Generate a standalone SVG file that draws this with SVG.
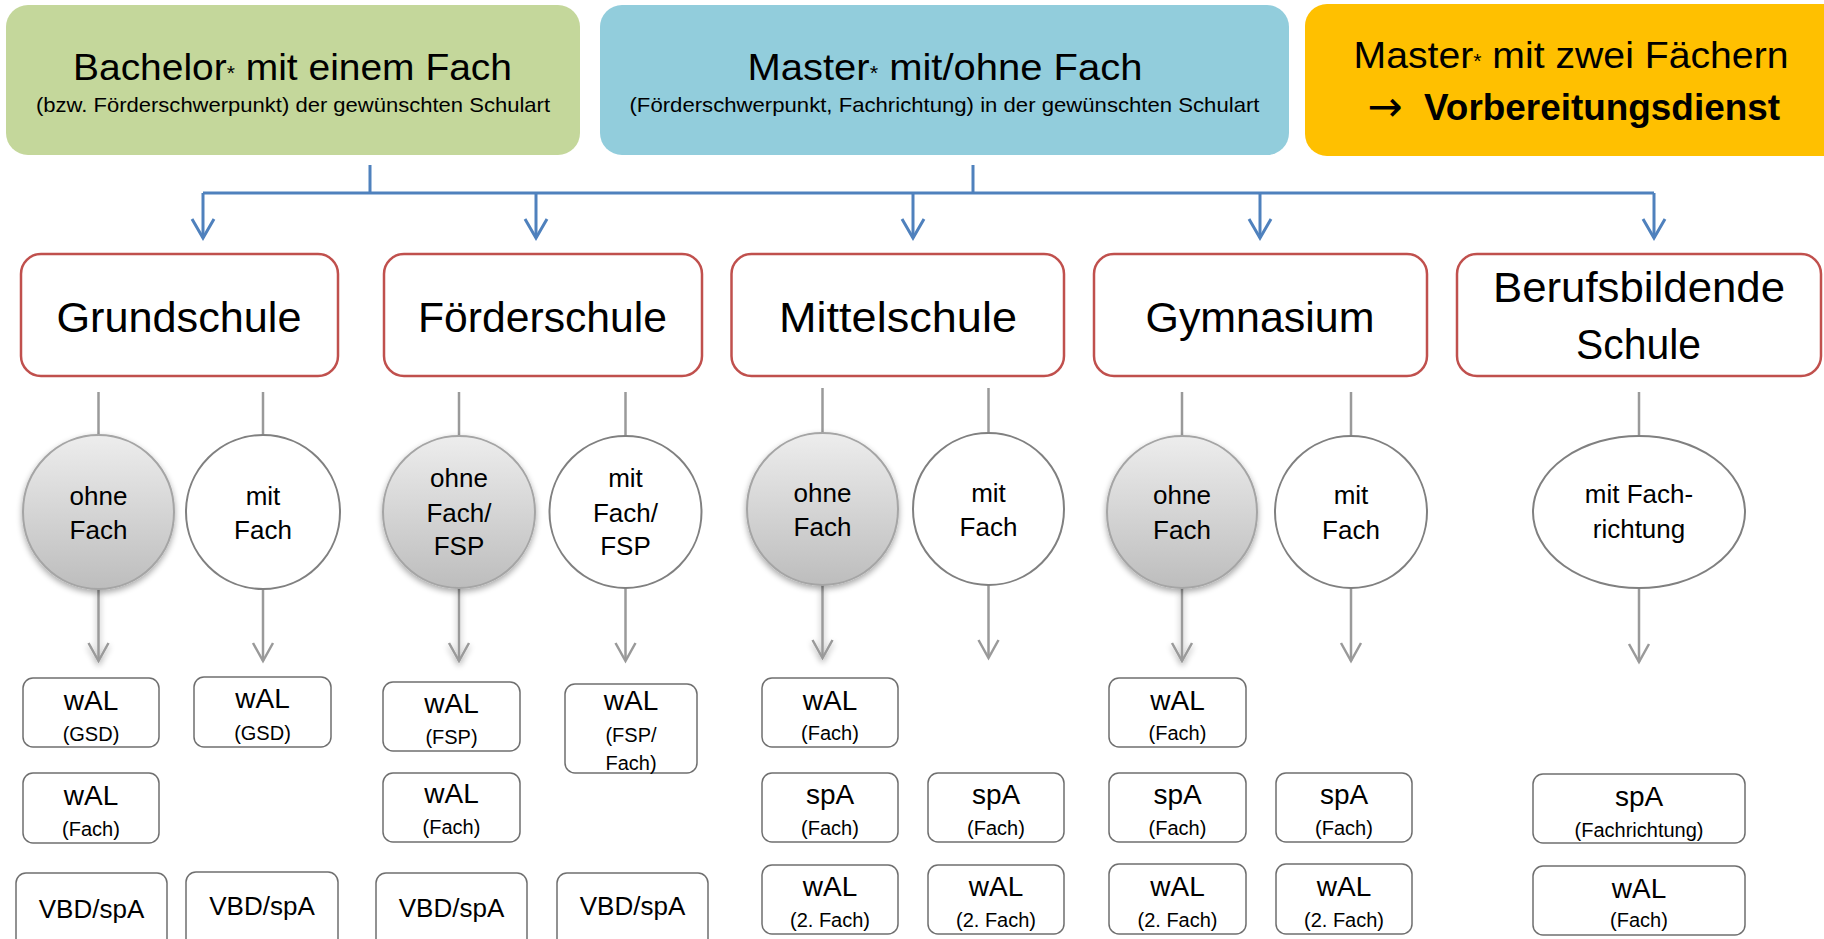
<svg xmlns="http://www.w3.org/2000/svg" width="1824" height="939" viewBox="0 0 1824 939">
<style>
.t{font-family:"Liberation Sans",Arial,sans-serif;fill:#000;text-anchor:middle}
.h1{font-size:37px}
.sub{font-size:21px}
.sch{font-size:43px}
.el{font-size:26px}
.big{font-size:28px}
.sm{font-size:20px}
.vbd{font-size:26px}
.school{fill:#fff;stroke:#C0504D;stroke-width:2.5}
.box{fill:#fff;stroke:#6F6F6F;stroke-width:1.5}
.mit{fill:#fff;stroke:#808080;stroke-width:2}
.ohne{fill:url(#gg);stroke:#A5A5A5;stroke-width:2;filter:url(#sh)}
.blue{fill:none;stroke:#4F81BD;stroke-width:3}
.gray{fill:none;stroke:#9A9A9A;stroke-width:2.5}
</style>
<defs>
<linearGradient id="gg" x1="0" y1="0" x2="0" y2="1">
<stop offset="0" stop-color="#EDEDED"/>
<stop offset="1" stop-color="#BDBDBD"/>
</linearGradient>
<filter id="sh" x="-30%" y="-30%" width="160%" height="160%">
<feGaussianBlur in="SourceAlpha" stdDeviation="3"/>
<feOffset dy="3" result="b"/>
<feComponentTransfer><feFuncA type="linear" slope="0.35"/></feComponentTransfer>
<feMerge><feMergeNode/><feMergeNode in="SourceGraphic"/></feMerge>
</filter>
<marker id="ab" markerUnits="userSpaceOnUse" viewBox="-22 -13 24 26" markerWidth="24" markerHeight="26" refX="0" refY="0" orient="auto" overflow="visible">
<path d="M-19,-11 L0,0 L-19,11" fill="none" stroke="#4F81BD" stroke-width="3" stroke-linejoin="miter"/>
</marker>
<marker id="ag" markerUnits="userSpaceOnUse" viewBox="-22 -13 24 26" markerWidth="24" markerHeight="26" refX="0" refY="0" orient="auto" overflow="visible">
<path d="M-18,-10 L0,0 L-18,10" fill="none" stroke="#9A9A9A" stroke-width="2.5"/>
</marker>
</defs>
<rect width="1824" height="939" fill="#fff"/>

<g id="bachelor">
<rect x="6" y="5" width="574" height="150" rx="22" fill="#C4D79B"/>
<text class="t h1" x="292.5" y="80" textLength="439" lengthAdjust="spacingAndGlyphs">Bachelor<tspan font-size="20">*</tspan> mit einem Fach</text>
<text class="t sub" x="293" y="112" textLength="514" lengthAdjust="spacingAndGlyphs">(bzw. Förderschwerpunkt) der gewünschten Schulart</text>
</g>
<g id="master1">
<rect x="600" y="5" width="689" height="150" rx="22" fill="#92CDDC"/>
<text class="t h1" x="945" y="80" textLength="395" lengthAdjust="spacingAndGlyphs">Master<tspan font-size="20">*</tspan> mit/ohne Fach</text>
<text class="t sub" x="944.5" y="112" textLength="630" lengthAdjust="spacingAndGlyphs">(Förderschwerpunkt, Fachrichtung) in der gewünschten Schulart</text>
</g>
<g id="master2">
<rect x="1305" y="4" width="540" height="152" rx="22" fill="#FFC000"/>
<text class="t h1" x="1571" y="68" textLength="435" lengthAdjust="spacingAndGlyphs">Master<tspan font-size="20">*</tspan> mit zwei Fächern</text>
<text x="1385" y="121" font-family="DejaVu Sans,sans-serif" font-size="42" text-anchor="middle" fill="#000">→</text>
<text class="t h1" x="1602" y="120" font-weight="bold" textLength="356" lengthAdjust="spacingAndGlyphs">Vorbereitungsdienst</text>
</g>

<g id="connectors">
<path class="blue" d="M370 165V193M973 165V193M203 193H1654"/>
<path class="blue" d="M203 193V238" marker-end="url(#ab)"/>
<path class="blue" d="M536 193V238" marker-end="url(#ab)"/>
<path class="blue" d="M913 193V238" marker-end="url(#ab)"/>
<path class="blue" d="M1260 193V238" marker-end="url(#ab)"/>
<path class="blue" d="M1654 193V238" marker-end="url(#ab)"/>
<path class="gray" d="M98.5 392V435M263 392V435M459 392V436M625.5 392V436M822.5 388V433M988.5 388V433M1182 392V436M1351 392V436M1639 392V436"/>
<g filter="url(#sh)">
<path class="gray" d="M98.5 589V661" marker-end="url(#ag)"/>
<path class="gray" d="M459 588V661" marker-end="url(#ag)"/>
<path class="gray" d="M822.5 585V658" marker-end="url(#ag)"/>
<path class="gray" d="M1182 588V661" marker-end="url(#ag)"/>
</g>
<path class="gray" d="M263 589V661" marker-end="url(#ag)"/>
<path class="gray" d="M625.5 588V661" marker-end="url(#ag)"/>
<path class="gray" d="M988.5 585V658" marker-end="url(#ag)"/>
<path class="gray" d="M1351 588V661" marker-end="url(#ag)"/>
<path class="gray" d="M1639 588V662" marker-end="url(#ag)"/>
</g>

<g id="grundschule"><rect class="school" x="21" y="254" width="317" height="122" rx="20"/><text class="t sch" x="179" y="332" textLength="245" lengthAdjust="spacingAndGlyphs">Grundschule</text></g>
<g id="foerderschule"><rect class="school" x="384" y="254" width="318" height="122" rx="20"/><text class="t sch" x="542.5" y="332" textLength="249" lengthAdjust="spacingAndGlyphs">Förderschule</text></g>
<g id="mittelschule"><rect class="school" x="731.5" y="254" width="332.5" height="122" rx="20"/><text class="t sch" x="898" y="332" textLength="238" lengthAdjust="spacingAndGlyphs">Mittelschule</text></g>
<g id="gymnasium"><rect class="school" x="1094" y="254" width="333" height="122" rx="20"/><text class="t sch" x="1260" y="332" textLength="229" lengthAdjust="spacingAndGlyphs">Gymnasium</text></g>
<g id="berufsbildende"><rect class="school" x="1457" y="254" width="364" height="122" rx="20"/><text class="t sch" x="1639" y="302" textLength="292" lengthAdjust="spacingAndGlyphs">Berufsbildende</text><text class="t sch" x="1638.5" y="359" textLength="125" lengthAdjust="spacingAndGlyphs">Schule</text></g>

<g id="gs-ohne"><ellipse class="ohne" cx="98.5" cy="512" rx="75.5" ry="77"/><text class="t el" x="98.5" y="505">ohne</text><text class="t el" x="98.5" y="539">Fach</text></g>
<g id="gs-mit"><ellipse class="mit" cx="263" cy="512" rx="77" ry="77"/><text class="t el" x="263" y="505">mit</text><text class="t el" x="263" y="539">Fach</text></g>
<g id="fs-ohne"><ellipse class="ohne" cx="459" cy="512" rx="76" ry="76"/><text class="t el" x="459" y="487">ohne</text><text class="t el" x="459" y="522">Fach/</text><text class="t el" x="459" y="555">FSP</text></g>
<g id="fs-mit"><ellipse class="mit" cx="625.5" cy="512" rx="76" ry="76"/><text class="t el" x="625.5" y="487">mit</text><text class="t el" x="625.5" y="522">Fach/</text><text class="t el" x="625.5" y="555">FSP</text></g>
<g id="ms-ohne"><ellipse class="ohne" cx="822.5" cy="509" rx="75.5" ry="76"/><text class="t el" x="822.5" y="502">ohne</text><text class="t el" x="822.5" y="536">Fach</text></g>
<g id="ms-mit"><ellipse class="mit" cx="988.5" cy="509" rx="75.5" ry="76"/><text class="t el" x="988.5" y="502">mit</text><text class="t el" x="988.5" y="536">Fach</text></g>
<g id="gym-ohne"><ellipse class="ohne" cx="1182" cy="512" rx="75" ry="76"/><text class="t el" x="1182" y="504">ohne</text><text class="t el" x="1182" y="539">Fach</text></g>
<g id="gym-mit"><ellipse class="mit" cx="1351" cy="512" rx="76" ry="76"/><text class="t el" x="1351" y="504">mit</text><text class="t el" x="1351" y="539">Fach</text></g>
<g id="bbs-mit"><ellipse class="mit" cx="1639" cy="512" rx="106" ry="76"/><text class="t el" x="1639" y="503">mit Fach-</text><text class="t el" x="1639" y="538">richtung</text></g>

<g id="gs-ohne-wal-gsd"><rect class="box" x="23" y="678" width="136" height="69" rx="10"/><text class="t big" x="91" y="710">wAL</text><text class="t sm" x="91" y="741">(GSD)</text></g>
<g id="gs-ohne-wal-fach"><rect class="box" x="23" y="773" width="136" height="70" rx="10"/><text class="t big" x="91" y="805">wAL</text><text class="t sm" x="91" y="836">(Fach)</text></g>
<g id="gs-ohne-vbd"><rect class="box" x="16" y="873" width="151" height="80" rx="10"/><text class="t vbd" x="91.5" y="918">VBD/spA</text></g>
<g id="gs-mit-wal-gsd"><rect class="box" x="194" y="677" width="137" height="70" rx="10"/><text class="t big" x="262.5" y="708">wAL</text><text class="t sm" x="262.5" y="740">(GSD)</text></g>
<g id="gs-mit-vbd"><rect class="box" x="186" y="872" width="152" height="80" rx="10"/><text class="t vbd" x="262" y="915">VBD/spA</text></g>

<g id="fs-ohne-wal-fsp"><rect class="box" x="383" y="682" width="137" height="69" rx="10"/><text class="t big" x="451.5" y="713">wAL</text><text class="t sm" x="451.5" y="744">(FSP)</text></g>
<g id="fs-ohne-wal-fach"><rect class="box" x="383" y="773" width="137" height="69" rx="10"/><text class="t big" x="451.5" y="803">wAL</text><text class="t sm" x="451.5" y="834">(Fach)</text></g>
<g id="fs-ohne-vbd"><rect class="box" x="376" y="873" width="151" height="80" rx="10"/><text class="t vbd" x="451.5" y="917">VBD/spA</text></g>
<g id="fs-mit-wal-fsp-fach"><rect class="box" x="565" y="684" width="132" height="89" rx="10"/><text class="t big" x="631" y="710">wAL</text><text class="t sm" x="631" y="742">(FSP/</text><text class="t sm" x="631" y="770">Fach)</text></g>
<g id="fs-mit-vbd"><rect class="box" x="557" y="873" width="151" height="80" rx="10"/><text class="t vbd" x="632.5" y="915">VBD/spA</text></g>

<g id="ms-ohne-wal-fach"><rect class="box" x="762" y="678" width="136" height="69" rx="10"/><text class="t big" x="830" y="710">wAL</text><text class="t sm" x="830" y="740">(Fach)</text></g>
<g id="ms-ohne-spa-fach"><rect class="box" x="762" y="773" width="136" height="69" rx="10"/><text class="t big" x="830" y="804">spA</text><text class="t sm" x="830" y="835">(Fach)</text></g>
<g id="ms-ohne-wal-2fach"><rect class="box" x="762" y="865" width="136" height="69" rx="10"/><text class="t big" x="830" y="896">wAL</text><text class="t sm" x="830" y="927">(2. Fach)</text></g>
<g id="ms-mit-spa-fach"><rect class="box" x="928" y="773" width="136" height="69" rx="10"/><text class="t big" x="996" y="804">spA</text><text class="t sm" x="996" y="835">(Fach)</text></g>
<g id="ms-mit-wal-2fach"><rect class="box" x="928" y="865" width="136" height="69" rx="10"/><text class="t big" x="996" y="896">wAL</text><text class="t sm" x="996" y="927">(2. Fach)</text></g>

<g id="gym-ohne-wal-fach"><rect class="box" x="1109" y="678" width="137" height="69" rx="10"/><text class="t big" x="1177.5" y="710">wAL</text><text class="t sm" x="1177.5" y="740">(Fach)</text></g>
<g id="gym-ohne-spa-fach"><rect class="box" x="1109" y="773" width="137" height="69" rx="10"/><text class="t big" x="1177.5" y="804">spA</text><text class="t sm" x="1177.5" y="835">(Fach)</text></g>
<g id="gym-ohne-wal-2fach"><rect class="box" x="1109" y="864" width="137" height="70" rx="10"/><text class="t big" x="1177.5" y="896">wAL</text><text class="t sm" x="1177.5" y="927">(2. Fach)</text></g>
<g id="gym-mit-spa-fach"><rect class="box" x="1276" y="773" width="136" height="69" rx="10"/><text class="t big" x="1344" y="804">spA</text><text class="t sm" x="1344" y="835">(Fach)</text></g>
<g id="gym-mit-wal-2fach"><rect class="box" x="1276" y="864" width="136" height="70" rx="10"/><text class="t big" x="1344" y="896">wAL</text><text class="t sm" x="1344" y="927">(2. Fach)</text></g>

<g id="bbs-spa-fachrichtung"><rect class="box" x="1533" y="774" width="212" height="69" rx="10"/><text class="t big" x="1639" y="806">spA</text><text class="t sm" x="1639" y="837">(Fachrichtung)</text></g>
<g id="bbs-wal-fach"><rect class="box" x="1533" y="866" width="212" height="69" rx="10"/><text class="t big" x="1639" y="898">wAL</text><text class="t sm" x="1639" y="927">(Fach)</text></g>
</svg>
